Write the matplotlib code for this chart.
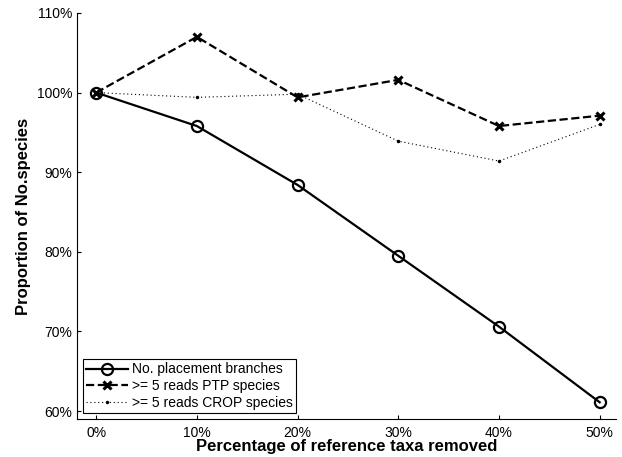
import numpy as np
import matplotlib.pyplot as plt

plt.rcParams['font.family'] = ['Liberation Sans', 'DejaVu Sans']

removed = [0, 10, 20, 30, 40, 50]
branches = [100, 95.8, 88.4, 79.5, 70.6, 61.1]
ptp = [100, 107.0, 99.4, 101.6, 95.8, 97.1]
crop = [100, 99.4, 99.8, 93.9, 91.4, 96.0]
xticklabels = ['0%', '10%', '20%', '30%', '40%', '50%']
yticks = [60, 70, 80, 90, 100, 110]

fig = plt.figure(figsize=(6.22, 4.57), dpi=100)
ax = fig.add_axes([0.1238, 0.0832, 0.8662, 0.8884])

ax.plot(removed, branches, 'k-', lw=1.6, marker='o', ms=8, mfc='none', mew=1.6,
        label='No. placement branches')
ax.plot(removed, ptp, 'k--', lw=1.6, marker='x', ms=6, mew=2.2,
        label='>= 5 reads PTP species')
ax.plot(removed, crop, color='k', ls=(0, (1, 2.5)), lw=0.8, marker='.', ms=3,
        label='>= 5 reads CROP species')

ax.set_xlim(-1.9, 51.6)
ax.set_ylim(59, 110)
ax.set_xticks(removed)
ax.set_xticklabels(xticklabels)
ax.set_yticks(yticks)
ax.set_yticklabels([f'{v}%' for v in yticks])
ax.tick_params(direction='in', length=3, labelsize=10, width=0.8)
ax.tick_params(axis='x', pad=5)
ax.spines['top'].set_visible(False)
ax.spines['right'].set_visible(False)
for s in ['left', 'bottom']:
    ax.spines[s].set_linewidth(0.8)

ax.set_xlabel('Percentage of reference taxa removed', fontsize=12, fontweight='bold', labelpad=-1)
ax.set_ylabel('Proportion of No.species', fontsize=12, fontweight='bold', labelpad=4)

leg = ax.legend(loc='lower left', fontsize=10, handlelength=3.0, borderaxespad=0.4,
                labelspacing=0.2, handletextpad=0.3, borderpad=0.25, fancybox=False, framealpha=1)
leg.get_frame().set_edgecolor('k')
leg.get_frame().set_linewidth(0.8)

fig.savefig('out.png', dpi=100)
